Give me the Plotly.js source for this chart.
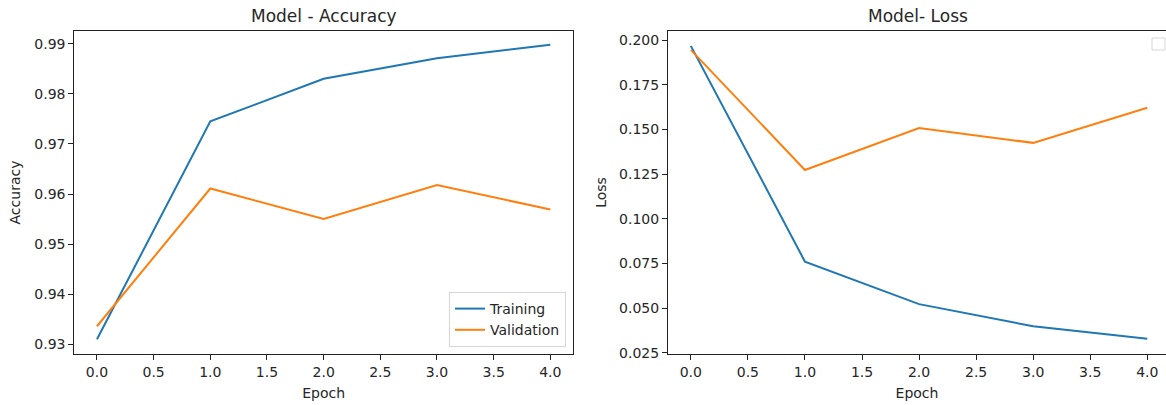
<!DOCTYPE html>
<html>
<head>
<meta charset="utf-8">
<script src="https://cdn.plot.ly/plotly-3.0.1.min.js"></script>
<style>html,body{margin:0;padding:0;background:#fff;}#chart{width:1166px;height:405px;}</style>
</head>
<body>
<div id="chart"></div>
<script>
const epochs = [0, 1, 2, 3, 4];
const accTraining = [0.9310, 0.9745, 0.9830, 0.9871, 0.9898];
const accValidation = [0.9336, 0.9611, 0.9550, 0.9618, 0.9569];
const lossTraining = [0.1968, 0.0760, 0.0522, 0.0398, 0.0328];
const lossValidation = [0.1946, 0.1273, 0.1508, 0.1425, 0.1622];
const accTicks = [0.93, 0.94, 0.95, 0.96, 0.97, 0.98, 0.99];
const lossTicks = [0.025, 0.050, 0.075, 0.100, 0.125, 0.150, 0.175, 0.200];
const epochTicks = [0, 0.5, 1, 1.5, 2, 2.5, 3, 3.5, 4];

const W = 1166, H = 405;
const FONT = 'DejaVu Sans, sans-serif';
const TXT = '#262626';
const BLUE = '#1f77b4', ORANGE = '#ff7f0e';

const traces = [
  {x: epochs, y: accTraining, name: 'Training', type: 'scatter', mode: 'lines',
   line: {color: BLUE, width: 2}, xaxis: 'x', yaxis: 'y', legendgroup: 'a'},
  {x: epochs, y: accValidation, name: 'Validation', type: 'scatter', mode: 'lines',
   line: {color: ORANGE, width: 2}, xaxis: 'x', yaxis: 'y', legendgroup: 'b'},
  {x: epochs, y: lossTraining, name: 'Training', type: 'scatter', mode: 'lines',
   line: {color: BLUE, width: 2}, xaxis: 'x2', yaxis: 'y2', showlegend: false},
  {x: epochs, y: lossValidation, name: 'Validation', type: 'scatter', mode: 'lines',
   line: {color: ORANGE, width: 2}, xaxis: 'x2', yaxis: 'y2', showlegend: false}
];

const axCommon = {
  showgrid: false, zeroline: false, showline: true, linecolor: '#222', linewidth: 1,
  ticks: 'outside', ticklen: 5, tickwidth: 1, tickcolor: '#222',
  tickfont: {family: FONT, size: 14, color: TXT}, automargin: false
};
const yDom = [1 - 354 / H, 1 - 31 / H];

const layout = {
  width: W, height: H,
  margin: {l: 0, r: 0, t: 0, b: 0},
  paper_bgcolor: '#fff', plot_bgcolor: '#fff',
  font: {family: FONT, color: TXT},
  showlegend: true,
  legend: {
    x: 566 / W, y: 1 - 347 / H, xanchor: 'right', yanchor: 'bottom',
    bgcolor: 'rgba(255,255,255,0.8)', bordercolor: '#d6d6d6', borderwidth: 1,
    font: {family: FONT, size: 14, color: TXT}, tracegroupgap: 0
  },
  xaxis: Object.assign({}, axCommon, {
    domain: [74.3 / W, 573 / W], range: [-0.2, 4.2], mirror: true,
    tickvals: epochTicks, tickformat: '.1f', anchor: 'y',
    title: {text: 'Epoch', font: {family: FONT, size: 14, color: TXT}, standoff: 9}
  }),
  yaxis: Object.assign({}, axCommon, {
    domain: yDom, range: [0.92806, 0.99254], mirror: true,
    tickvals: accTicks, tickformat: '.2f', anchor: 'x',
    title: {text: 'Accuracy', font: {family: FONT, size: 14, color: TXT}, standoff: 10}
  }),
  xaxis2: Object.assign({}, axCommon, {
    domain: [668 / W, 1], range: [-0.2, (W - 690.7) / 114.15], mirror: true,
    tickvals: epochTicks, tickformat: '.1f', anchor: 'y2',
    title: {text: 'Epoch', font: {family: FONT, size: 14, color: TXT}, standoff: 9}
  }),
  yaxis2: Object.assign({}, axCommon, {
    domain: yDom, range: [0.02427, 0.20514], mirror: false,
    tickvals: lossTicks, tickformat: '.3f', anchor: 'x2',
    title: {text: 'Loss', font: {family: FONT, size: 14, color: TXT}, standoff: 9}
  }),
  annotations: [
    {text: 'Model - Accuracy', xref: 'paper', yref: 'paper', x: 323.6 / W, y: 1 - 16 / H,
     xanchor: 'center', yanchor: 'middle', showarrow: false,
     font: {family: FONT, size: 17, color: TXT}},
    {text: 'Model- Loss', xref: 'paper', yref: 'paper', x: 917.5 / W, y: 1 - 16 / H,
     xanchor: 'center', yanchor: 'middle', showarrow: false,
     font: {family: FONT, size: 17, color: TXT}}
  ],
  shapes: [
    {type: 'rect', xref: 'paper', yref: 'paper',
     x0: 1152 / W, x1: 1165 / W, y0: 1 - 50 / H, y1: 1 - 38 / H,
     line: {color: '#d6d6d6', width: 1}, fillcolor: 'rgba(255,255,255,0.8)'}
  ]
};

Plotly.newPlot('chart', traces, layout, {displayModeBar: false, staticPlot: true});
</script>
</body>
</html>
